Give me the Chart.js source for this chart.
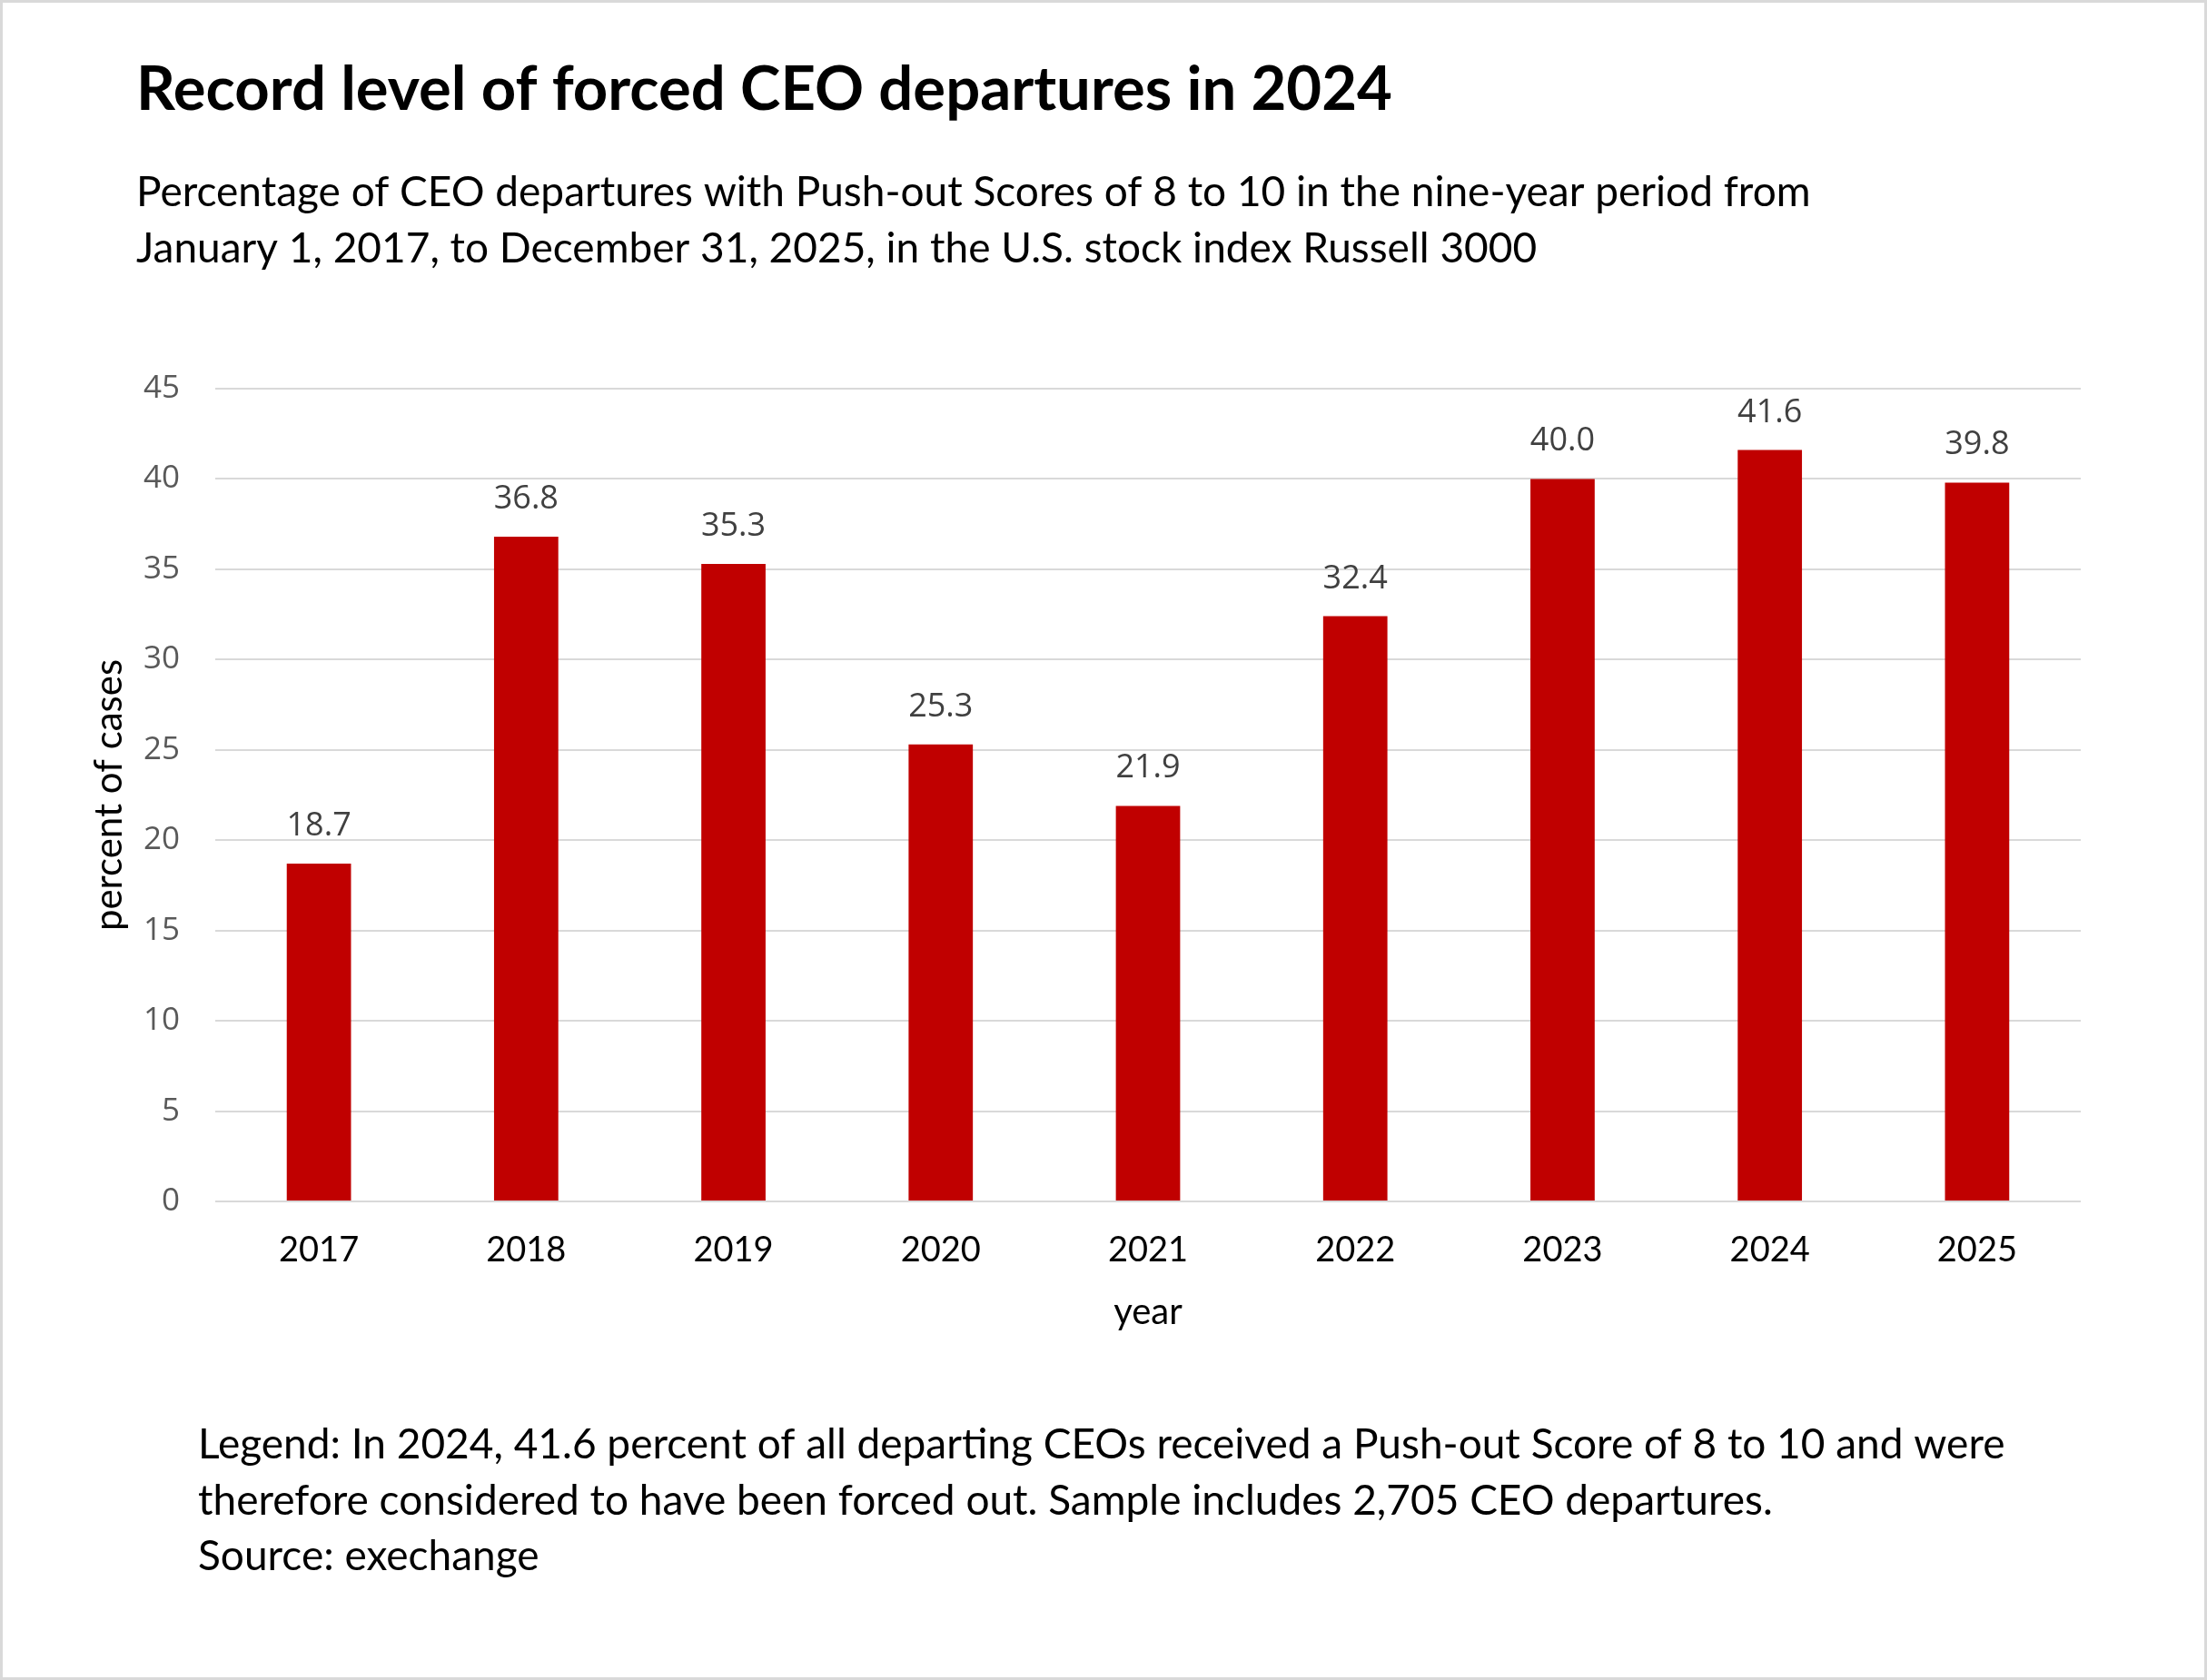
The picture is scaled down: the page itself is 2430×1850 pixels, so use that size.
<!DOCTYPE html>
<html>
<head>
<meta charset="utf-8">
<title>Forced CEO departures</title>
<script src="https://cdn.jsdelivr.net/npm/chart.js@4.4.1/dist/chart.umd.min.js"></script>
<style>
    html, body { margin: 0; padding: 0; background: #fff; }
    canvas { display: block; }
</style>
</head>
<body>
<canvas id="ceoChart" width="2430" height="1850"></canvas>
<script>
/* Forced CEO departures bar chart, Russell 3000, 2017-2025. */

// Chart data.
var years = ["2017", "2018", "2019", "2020", "2021", "2022", "2023", "2024", "2025"];
var pushOutShare = [18.7, 36.8, 35.3, 25.3, 21.9, 32.4, 40.0, 41.6, 39.8];
var yTicks = [0, 5, 10, 15, 20, 25, 30, 35, 40, 45];

var titleText = "Record level of forced CEO departures in 2024";
var subtitleLines = [
    "Percentage of CEO departures with Push-out Scores of 8 to 10 in the nine-year period from",
    "January 1, 2017, to December 31, 2025, in the U.S. stock index Russell 3000"
];
var noteLines = [
    "Legend: In 2024, 41.6 percent of all departing CEOs received a Push-out Score of 8 to 10 and were",
    "therefore considered to have been forced out. Sample includes 2,705 CEO departures.",
    "Source: exechange"
];

var TEXT_FONT = "Lato, 'Open Sans', sans-serif";
var NUM_FONT = "'Open Sans', Lato, sans-serif";

// Title, subtitle, footnote and frame drawn straight on the canvas.
var captions = {
    id: "captions",
    beforeDraw: function (chart) {
        var ctx = chart.ctx;
        ctx.save();
        ctx.fillStyle = "#ffffff";
        ctx.fillRect(0, 0, chart.width, chart.height);

        ctx.fillStyle = "#000000";
        ctx.textAlign = "left";
        ctx.textBaseline = "alphabetic";

        ctx.font = "bold 67px " + TEXT_FONT;
        ctx.fillText(titleText, 150, 121);

        ctx.font = "46px " + TEXT_FONT;
        subtitleLines.forEach(function (line, i) {
            ctx.fillText(line, 150, 227 + i * 62);
        });
        noteLines.forEach(function (line, i) {
            ctx.fillText(line, 218, 1606 + i * 61.5);
        });

        ctx.strokeStyle = "#d9d9d9";
        ctx.lineWidth = 3;
        ctx.strokeRect(1.5, 1.5, chart.width - 3, chart.height - 3);
        ctx.restore();
    }
};

// Value labels above each bar, placed from the bar elements.
var valueLabels = {
    id: "valueLabels",
    afterDatasetsDraw: function (chart) {
        var ctx = chart.ctx;
        var meta = chart.getDatasetMeta(0);
        ctx.save();
        ctx.fillStyle = "#404040";
        ctx.font = "36px " + NUM_FONT;
        ctx.textAlign = "center";
        ctx.textBaseline = "alphabetic";
        meta.data.forEach(function (bar, i) {
            ctx.fillText(pushOutShare[i].toFixed(1), bar.x, bar.y - 31);
        });
        ctx.restore();
    }
};

new Chart(document.getElementById("ceoChart"), {
    type: "bar",
    data: {
        labels: years,
        datasets: [
            {
                label: "percent of cases",
                data: pushOutShare,
                backgroundColor: "#c00000",
                borderWidth: 0,
                barPercentage: 0.31,
                categoryPercentage: 1
            }
        ]
    },
    options: {
        responsive: false,
        animation: false,
        devicePixelRatio: 1,
        layout: {
            padding: { top: 428, right: 139, bottom: 367, left: 78 }
        },
        plugins: {
            legend: { display: false },
            tooltip: { enabled: false }
        },
        scales: {
            x: {
                grid: { display: false, drawTicks: false },
                border: { display: false },
                ticks: {
                    color: "#000000",
                    font: { family: TEXT_FONT, size: 38 },
                    padding: 31,
                    maxRotation: 0
                },
                title: {
                    display: true,
                    text: "year",
                    color: "#000000",
                    font: { family: TEXT_FONT, size: 40 },
                    padding: { top: 0, bottom: 14 }
                },
                afterFit: function (scale) {
                    scale.height = 160;
                }
            },
            y: {
                min: 0,
                max: 45,
                afterBuildTicks: function (scale) {
                    scale.ticks = yTicks.map(function (v) {
                        return { value: v };
                    });
                },
                grid: { color: "#d9d9d9", lineWidth: 2, drawTicks: false },
                border: { display: false },
                ticks: {
                    color: "#595959",
                    font: { family: NUM_FONT, size: 35 },
                    padding: 39
                },
                title: {
                    display: true,
                    text: "percent of cases",
                    color: "#000000",
                    font: { family: TEXT_FONT, size: 42 },
                    padding: { top: 17, bottom: 0 }
                },
                afterFit: function (scale) {
                    scale.width = 159;
                }
            }
        }
    },
    plugins: [captions, valueLabels]
});
</script>
</body>
</html>
